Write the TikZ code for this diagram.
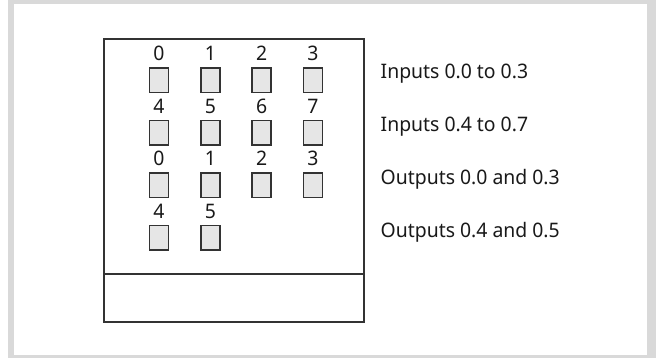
\documentclass[tikz,border=0pt]{standalone}
\usepackage{fontspec}
\setmainfont{Noto Sans}[FakeStretch=0.97]
\definecolor{framegray}{HTML}{D9D9D9}
\definecolor{linecol}{HTML}{333333}
\definecolor{ledfill}{HTML}{E6E6E6}
\tikzset{
  panel/.style={draw=linecol, line width=1.6pt, inner sep=0pt},
  led/.style={draw=linecol, fill=ledfill, line width=1.6pt, minimum width=19pt, minimum height=24.5pt, inner sep=0pt},
  num/.style={anchor=base, inner sep=0pt, font=\fontsize{20}{24}\selectfont, text=black!90},
  txt/.style={anchor=base west, inner sep=0pt, font=\fontsize{20}{24}\selectfont, text=black!90}
}
\begin{document}
\begin{tikzpicture}[x=1pt,y=-1pt]
\useasboundingbox (0,0) rectangle (656,358);
\fill[framegray] (8,0) rectangle (656,358);
\fill[white] (14,4) rectangle (647,355);
% housing
\node[panel, minimum width=260pt, minimum height=282.7pt] (box) at (234,180.35) {};
\coordinate (dl) at (104,274);
\coordinate (dr) at (364,274);
\draw[linecol, line width=1.6pt] (dl) -- (dr);
% LEDs
\foreach \r/\yc/\labs in {1/80.3/{0,1,2,3}, 2/132.7/{4,5,6,7}, 3/185.2/{0,1,2,3}} {
  \foreach \l [count=\c] in \labs {
    \pgfmathsetmacro{\xc}{159+51.3*(\c-1)}
    \node[led] (led\r\c) at (\xc,\yc) {};
    \node[num] (num\r\c) at ([yshift=6.5pt]led\r\c.north) {\l};
  }
}
\foreach \l [count=\c] in {4,5} {
  \pgfmathsetmacro{\xc}{159+51.3*(\c-1)}
  \node[led] (led4\c) at (\xc,237.7) {};
  \node[num] (num4\c) at ([yshift=6.5pt]led4\c.north) {\l};
}
% texts
\node[txt] (t1) at (380.5,78.5) {Inputs 0.0 to 0.3};
\node[txt] (t2) at (380.5,132) {Inputs 0.4 to 0.7};
\node[txt] (t3) at (380.5,185) {Outputs 0.0 and 0.3};
\node[txt] (t4) at (380.5,238) {Outputs 0.4 and 0.5};
\end{tikzpicture}
\end{document}
